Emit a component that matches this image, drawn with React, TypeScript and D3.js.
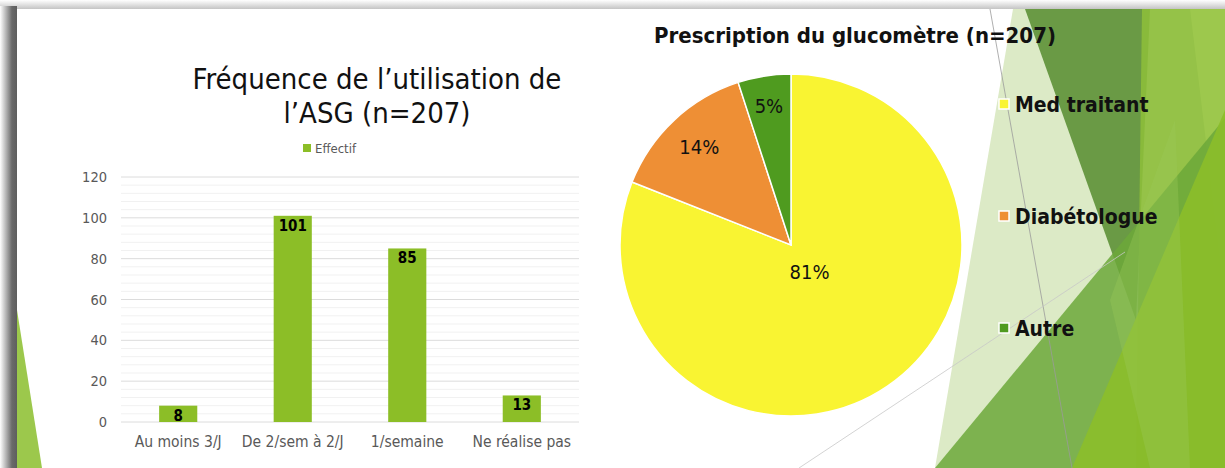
import React from "react";
import * as d3 from "d3";

const barCategories = ["Au moins 3/J", "De 2/sem à 2/J", "1/semaine", "Ne réalise pas"];
const barValues = [8, 101, 85, 13];
const yTicks = [0, 20, 40, 60, 80, 100, 120];
const barSeriesName = "Effectif";
const barTitle = ["Fréquence de l\u2019utilisation de", "l\u2019ASG (n=207)"];

const pieCategories = ["Med traitant", "Diabétologue", "Autre"];
const pieValues = [81, 14, 5];
const pieTitle = "Prescription du glucomètre (n=207)";

const W = 1225;
const H = 468;
const FONT = "'DejaVu Sans Condensed', 'Liberation Sans Narrow', 'DejaVu Sans', sans-serif";
const BAR_COLOR = "#8CBE27";
const PIE_COLORS = ["#F9F432", "#EE8F35", "#4F9B1F"];
const LABEL_R = [33, 134, 141];

export default function App() {
  const x = d3
    .scaleBand<string>()
    .domain(barCategories)
    .range([121, 579])
    .paddingInner(0.667)
    .paddingOuter(0.333);
  const y = d3.scaleLinear().domain([0, 120]).range([422, 177]);
  const minorTicks = d3.range(0, 121, 4).filter((v) => v % 20 !== 0);

  const pie = d3.pie<number>().sort(null).value((d) => d)(pieValues);
  const R = 171;
  const cx = 791;
  const cy = 245;
  const arc = d3.arc<d3.PieArcDatum<number>>().innerRadius(0).outerRadius(R);
  const total = d3.sum(pieValues);

  return (
    <svg
      width={W}
      height={H}
      style={{ position: "absolute", left: 0, top: 0, display: "block" }}
      fontFamily={FONT}
    >
      <defs>
        <linearGradient id="leftShadow" x1="0" x2="1" y1="0" y2="0">
          <stop offset="0" stopColor="#ffffff" />
          <stop offset="0.35" stopColor="#b5b5b5" />
          <stop offset="0.7" stopColor="#6a6a6a" />
          <stop offset="1" stopColor="#5e5e5e" />
        </linearGradient>
        <linearGradient id="topShadow" x1="0" x2="0" y1="0" y2="1">
          <stop offset="0" stopColor="#ffffff" />
          <stop offset="0.5" stopColor="#e2e2e2" />
          <stop offset="1" stopColor="#c4c4c4" />
        </linearGradient>
      </defs>
      <rect x={0} y={0} width={W} height={H} fill="#ffffff" />
      {/* slide shadows */}
      <rect x={0} y={0} width={W} height={9} fill="url(#topShadow)" />
      <rect x={0} y={6} width={17} height={H - 6} fill="url(#leftShadow)" />
      <rect x={17} y={9} width={W - 17} height={H - 9} fill="#ffffff" />

      {/* decoration right */}
      <polygon points="1013,9 1225,9 1225,468 935,468" fill="#DCEAC6" />
      <polygon points="1025,9 1150,9 1136,320" fill="#5F933A" opacity={0.92} />
      <polygon points="1142,9 1225,9 1225,468 1136,468" fill="#8DBE3A" opacity={0.9} />
      <polygon points="1190,9 1225,9 1225,300" fill="#9DC94E" opacity={0.9} />
      <polygon points="935,468 1225,118 1225,468" fill="#6CA83A" opacity={0.85} />
      <polygon points="1072,468 1225,110 1225,468" fill="#8CBE2A" opacity={0.9} />
      <polygon points="1110,300 1175,120 1190,468 1150,468" fill="#9BC85A" opacity={0.35} />
      <line x1={990} y1={9} x2={1072} y2={468} stroke="#9a9a9a" strokeWidth={0.8} />
      <line x1={799} y1={468} x2={1125} y2={252} stroke="#c8c8c8" strokeWidth={0.8} />
      {/* decoration left */}
      <polygon points="17,310 17,468 42,468" fill="#9CC84C" />

      {/* bar chart title */}
      <text x={377} y={89} textAnchor="middle" fontSize={29} fill="#111">
        {barTitle[0]}
      </text>
      <text x={377} y={123} textAnchor="middle" fontSize={29} fill="#111">
        {barTitle[1]}
      </text>
      {/* legend */}
      <rect x={303} y={144} width={8} height={8} fill={BAR_COLOR} />
      <text x={315} y={152.5} fontSize={13} fill="#595959">
        {barSeriesName}
      </text>

      {/* gridlines */}
      {minorTicks.map((t) => (
        <line key={"m" + t} x1={121} x2={579} y1={y(t)} y2={y(t)} stroke="#F1F1F1" strokeWidth={1} />
      ))}
      {yTicks.map((t) => (
        <line key={"g" + t} x1={121} x2={579} y1={y(t)} y2={y(t)} stroke="#DCDCDC" strokeWidth={1} />
      ))}
      {yTicks.map((t) => (
        <text key={"t" + t} x={107} y={y(t)} dy="0.35em" textAnchor="end" fontSize={14.5} fill="#595959">
          {t}
        </text>
      ))}
      {/* bars */}
      {barCategories.map((c, i) => (
        <g key={c}>
          <rect
            x={x(c)}
            y={y(barValues[i])}
            width={x.bandwidth()}
            height={y(0) - y(barValues[i])}
            fill={BAR_COLOR}
          />
          <text
            x={(x(c) || 0) + x.bandwidth() / 2}
            y={y(barValues[i]) + 15}
            textAnchor="middle"
            fontSize={15}
            fontWeight="bold"
            fill="#000"
          >
            {barValues[i]}
          </text>
          <text
            x={(x(c) || 0) + x.bandwidth() / 2}
            y={447}
            textAnchor="middle"
            fontSize={15.5}
            fill="#595959"
          >
            {c}
          </text>
        </g>
      ))}

      {/* pie */}
      <text x={855} y={43} textAnchor="middle" fontSize={22} fontWeight="bold" fill="#111">
        {pieTitle}
      </text>
      <g transform={`translate(${cx},${cy})`}>
        {pie.map((d, i) => (
          <path key={i} d={arc(d) || ""} fill={PIE_COLORS[i]} stroke="#ffffff" strokeWidth={1.5} />
        ))}
        {pie.map((d, i) => {
          const a = (d.startAngle + d.endAngle) / 2;
          const r = LABEL_R[i];
          return (
            <text
              key={"l" + i}
              x={Math.sin(a) * r}
              y={-Math.cos(a) * r}
              dy="0.35em"
              textAnchor="middle"
              fontSize={20}
              fill="#111"
            >
              {Math.round((d.data / total) * 100) + "%"}
            </text>
          );
        })}
      </g>
      {/* pie legend */}
      {pieCategories.map((c, i) => (
        <g key={c} transform={`translate(0, ${105 + i * 112})`}>
          <rect x={999} y={-6} width={10} height={10} fill={PIE_COLORS[i]} stroke="#fff" strokeWidth={1.5} />
          <text x={1015} y={0} dy="0.35em" fontSize={21} fontWeight="bold" fill="#111">
            {c}
          </text>
        </g>
      ))}
    </svg>
  );
}
